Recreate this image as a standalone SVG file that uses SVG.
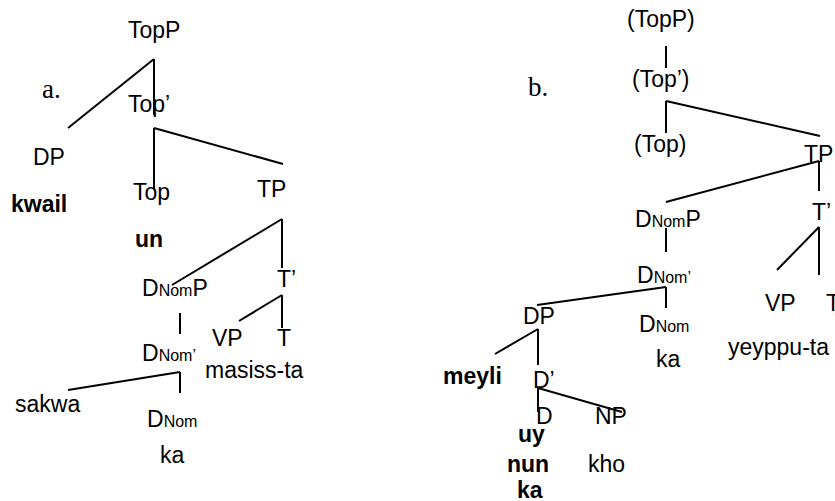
<svg xmlns="http://www.w3.org/2000/svg" width="835" height="501" viewBox="0 0 835 501">
  <style>
    text { font-family: "Liberation Sans", Arial, sans-serif; font-size: 23px; fill: #000; }
    .b { font-weight: bold; }
    .lbl { font-family: "Liberation Serif", "Times New Roman", serif; font-size: 27px; }
    .sub { font-size: 16px; }
    .edges line { stroke: #000; stroke-width: 2; stroke-linecap: butt; }
  </style>
  <rect width="835" height="501" fill="#fff"/>

  <!-- tree branches -->
  <g id="connectors" class="edges">
    <!-- tree (a) -->
    <line x1="154" y1="59" x2="68" y2="128"/>
    <line x1="154" y1="59" x2="154" y2="115"/>
    <line x1="154" y1="128" x2="154" y2="190"/>
    <line x1="154" y1="128" x2="283" y2="164"/>
    <line x1="282" y1="219" x2="172" y2="285"/>
    <line x1="282" y1="219" x2="282" y2="268"/>
    <line x1="180" y1="313" x2="180" y2="334"/>
    <line x1="282" y1="295" x2="239" y2="321"/>
    <line x1="282" y1="295" x2="282" y2="328"/>
    <line x1="180" y1="372" x2="68" y2="390"/>
    <line x1="180" y1="372" x2="180" y2="393"/>
    <!-- tree (b) -->
    <line x1="666" y1="46" x2="666" y2="68"/>
    <line x1="666" y1="101" x2="666" y2="133"/>
    <line x1="666" y1="101" x2="820" y2="136"/>
    <line x1="819" y1="161" x2="666" y2="202"/>
    <line x1="819" y1="161" x2="819" y2="191"/>
    <line x1="666" y1="228" x2="666" y2="252"/>
    <line x1="819" y1="227" x2="777" y2="270"/>
    <line x1="819" y1="227" x2="819" y2="275"/>
    <line x1="666" y1="287" x2="537" y2="305"/>
    <line x1="666" y1="287" x2="666" y2="308"/>
    <line x1="538" y1="329" x2="495" y2="354"/>
    <line x1="538" y1="329" x2="538" y2="365"/>
    <line x1="538" y1="388" x2="538" y2="412"/>
    <line x1="538" y1="388" x2="622" y2="412"/>
  </g>

  <!-- tree (a) -->
  <g id="label-a"><text class="lbl" x="42" y="98">a.</text></g>
  <g id="a-topp"><text x="128" y="38">TopP</text></g>
  <g id="a-topbar"><text x="128" y="112">Top’</text></g>
  <g id="a-dp"><text x="33" y="165">DP</text><text class="b" x="11" y="212">kwail</text></g>
  <g id="a-top"><text x="133" y="200">Top</text><text class="b" x="135" y="247">un</text></g>
  <g id="a-tp"><text x="257" y="197">TP</text></g>
  <g id="a-tbar"><text x="277" y="287">T’</text></g>
  <g id="a-dnomp"><text x="142" y="296">D<tspan class="sub">Nom</tspan>P</text></g>
  <g id="a-dnombar"><text x="142" y="361">D<tspan class="sub">Nom’</tspan></text></g>
  <g id="a-vp"><text x="212" y="346">VP</text></g>
  <g id="a-t"><text x="277" y="346">T</text><text x="205" y="378">masiss-ta</text></g>
  <g id="a-sakwa"><text x="15" y="412">sakwa</text></g>
  <g id="a-dnom"><text x="147" y="427">D<tspan class="sub">Nom</tspan></text><text x="160" y="463">ka</text></g>

  <!-- tree (b) -->
  <g id="label-b"><text class="lbl" x="528" y="96">b.</text></g>
  <g id="b-topp"><text x="627" y="27">(TopP)</text></g>
  <g id="b-topbar"><text x="632" y="87">(Top’)</text></g>
  <g id="b-top"><text x="634" y="152">(Top)</text></g>
  <g id="b-tp"><text x="804" y="162">TP</text></g>
  <g id="b-tbar"><text x="812" y="220">T’</text></g>
  <g id="b-dnomp"><text x="635" y="227">D<tspan class="sub">Nom</tspan>P</text></g>
  <g id="b-dnombar"><text x="637" y="283">D<tspan class="sub">Nom’</tspan></text></g>
  <g id="b-vp"><text x="765" y="311">VP</text></g>
  <g id="b-t"><text x="826" y="311">T</text><text x="728" y="355">yeyppu-ta</text></g>
  <g id="b-dp"><text x="523" y="324">DP</text></g>
  <g id="b-dnom"><text x="639" y="332">D<tspan class="sub">Nom</tspan></text><text x="656" y="367">ka</text></g>
  <g id="b-meyli"><text class="b" x="443" y="384">meyli</text></g>
  <g id="b-dbar"><text x="533" y="388">D’</text></g>
  <g id="b-d"><text x="536" y="424">D</text><text class="b" x="518" y="442">uy</text><text class="b" x="507" y="472">nun</text><text class="b" x="517" y="498">ka</text></g>
  <g id="b-np"><text x="595" y="424">NP</text><text x="588" y="472">kho</text></g>
</svg>
